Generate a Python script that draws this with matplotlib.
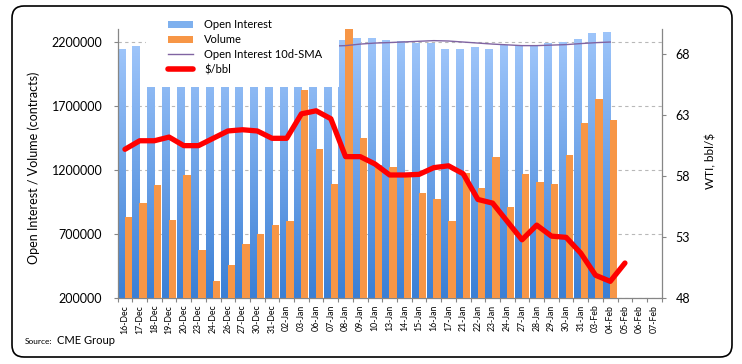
import numpy as np
import matplotlib.pyplot as plt
from matplotlib.colors import LinearSegmentedColormap
from matplotlib.patches import FancyBboxPatch, Rectangle, Patch
from matplotlib.lines import Line2D

plt.rcParams['font.family'] = ['Lato', 'DejaVu Sans']

# --- data ---
dates = ["16-Dec", "17-Dec", "18-Dec", "19-Dec", "20-Dec", "23-Dec", "24-Dec", "26-Dec",
         "27-Dec", "30-Dec", "31-Dec", "02-Jan", "03-Jan", "06-Jan", "07-Jan", "08-Jan",
         "09-Jan", "10-Jan", "13-Jan", "14-Jan", "15-Jan", "16-Jan", "17-Jan", "21-Jan",
         "22-Jan", "23-Jan", "24-Jan", "27-Jan", "28-Jan", "29-Jan", "30-Jan", "31-Jan",
         "03-Feb", "04-Feb", "05-Feb", "06-Feb", "07-Feb"]

# open interest (18-Dec .. 07-Jan tops are hidden behind the legend)
open_interest = [2150000, 2170000, 2180000, 2175000, 2160000, 2165000, 2170000, 2175000,
                 2170000, 2165000, 2160000, 2170000, 2175000, 2180000, 2185000, 2220000,
                 2230000, 2230000, 2215000, 2210000, 2195000, 2195000, 2150000, 2150000,
                 2160000, 2150000, 2175000, 2180000, 2170000, 2195000, 2205000, 2225000,
                 2270000, 2280000]

volume = [840000, 945000, 1085000, 810000, 1165000, 575000, 340000, 465000,
          625000, 700000, 770000, 805000, 1830000, 1365000, 1095000, 2310000,
          1455000, 1240000, 1230000, 1175000, 1025000, 975000, 805000, 1180000,
          1060000, 1305000, 915000, 1170000, 1110000, 1095000, 1320000, 1570000,
          1760000, 1595000]

sma_10d = [np.nan] * 10 + [2150000, 2155000, 2160000, 2165000, 2170000,
                           2174000, 2186000, 2194000, 2198000, 2203000, 2208000, 2213000,
                           2210000, 2202000, 2194000, 2186000, 2180000, 2174000, 2174000,
                           2178000, 2182000, 2190000, 2197000, 2202000]

price = [60.2, 60.9, 60.9, 61.2, 60.5, 60.5, 61.1, 61.7, 61.8, 61.7, 61.1, 61.1,
         63.1, 63.35, 62.7, 59.6, 59.6, 59.0, 58.1, 58.1, 58.15, 58.7, 58.85, 58.2,
         56.1, 55.8, 54.3, 52.8, 54.0, 53.1, 53.0, 51.7, 49.9, 49.4, 50.9]

left_ticks = [200000, 700000, 1200000, 1700000, 2200000]
right_ticks = [48, 53, 58, 63, 68]

GRAY = "#868686"
ORANGE = "#F79646"
blue_grad = LinearSegmentedColormap.from_list("oi", ["#3A7FD5", "#9EC5FA"])

fig = plt.figure(figsize=(7.42, 3.64), dpi=100)
ax = fig.add_axes([0.1585, 0.18, 0.7333, 0.739])
ax2 = ax.twinx()

x = np.arange(len(dates))
ymin, ymax = 200000, 2300000

# open interest bars with vertical gradient
n_oi = len(open_interest)
oi_bars = ax.bar(x[:n_oi] - 0.25, open_interest, width=0.48, color="#6FA3E8", zorder=2)
grad = np.linspace(0, 1, 256).reshape(-1, 1)
for b in oi_bars:
    bx, bw, bh = b.get_x(), b.get_width(), b.get_height()
    im = ax.imshow(grad, extent=(bx, bx + bw, ymin, bh), origin="lower",
                   cmap=blue_grad, aspect="auto", zorder=2.1)
    im.set_clip_path(b)

ax.bar(x[:len(volume)] + 0.23, volume, width=0.5, color=ORANGE, zorder=3)
ax.plot(x[:len(sma_10d)], sma_10d, color="#8064A2", lw=1.0, zorder=4)

ax2.plot(x[:len(price)], price, color="#FF0000", lw=3.8, zorder=4,
         solid_joinstyle="round", solid_capstyle="round")

ax.set_xlim(-0.5, len(dates) - 0.5)
ax.set_ylim(ymin, ymax)
ax2.set_ylim(48, 70)

# x axis
ax.set_xticks(x)
ax.set_xticklabels(dates, rotation=90, fontsize=6.3)
ax.set_xticks(np.arange(-0.5, len(dates)), minor=True)
ax.tick_params(axis="x", which="major", length=0, pad=4.5)
ax.tick_params(axis="x", which="minor", length=3, color=GRAY, width=0.8)

# left axis
ax.set_yticks(left_ticks)
ax.set_yticklabels([str(t) for t in left_ticks], fontsize=9)
ax.tick_params(axis="y", length=3, color=GRAY, width=0.8, pad=8)
ax.yaxis.grid(True, linestyle=(0, (3, 3)), color="#B8B8B8", lw=0.8)
ax.set_axisbelow(True)

# right axis
ax2.set_yticks(right_ticks)
ax2.set_yticklabels([str(t) for t in right_ticks], fontsize=9)
ax2.tick_params(axis="y", length=3, color=GRAY, width=0.8, pad=7)

for a in (ax, ax2):
    for s in a.spines.values():
        s.set_color(GRAY)
        s.set_linewidth(0.9)
    a.spines["top"].set_visible(False)
ax.spines["right"].set_visible(False)
ax2.spines["left"].set_visible(False)
ax2.spines["bottom"].set_visible(False)

# legend background (Excel legend sits on top of the bars)
ax2.add_patch(Rectangle((0.0522, 0.786), 0.354, 0.214, transform=ax2.transAxes,
                        facecolor="white", edgecolor="none", zorder=10))
handles = [Patch(facecolor="#7EB0EE"), Patch(facecolor=ORANGE),
           Line2D([], [], color="#8064A2", lw=1.0),
           Line2D([], [], color="#FF0000", lw=4, solid_capstyle="round")]
labels = ["Open Interest", "Volume", "Open Interest 10d-SMA", "$/bbl"]
leg = ax2.legend(handles, labels, loc="upper left", bbox_to_anchor=(168 / 742, 1 - 19.4 / 364),
                 bbox_transform=fig.transFigure, frameon=False, borderpad=0, borderaxespad=0,
                 fontsize=8, handlelength=2.25, handletextpad=1.0, labelspacing=0.35)
leg.set_zorder(11)

# axis titles and source
fig.text(34 / 742, 1 - 168 / 364, "Open Interest / Volume (contracts)", rotation=90,
         ha="center", va="center", fontsize=9)
fig.text(711 / 742, 1 - 161 / 364, "WTI, bbl/$", rotation=90, ha="center", va="center", fontsize=8.5)
fig.text(25 / 742, 1 - 341 / 364, "Source:", ha="left", va="center", fontsize=6)
fig.text(57 / 742, 1 - 340 / 364, "CME Group", ha="left", va="center", fontsize=8)

# rounded chart frame
fig.add_artist(FancyBboxPatch((0.12, 0.07), 7.2, 3.51, boxstyle="round,pad=0,rounding_size=0.12",
                              transform=fig.dpi_scale_trans, fill=False, ec="black", lw=1.2))

fig.savefig("out.png", dpi=100)
